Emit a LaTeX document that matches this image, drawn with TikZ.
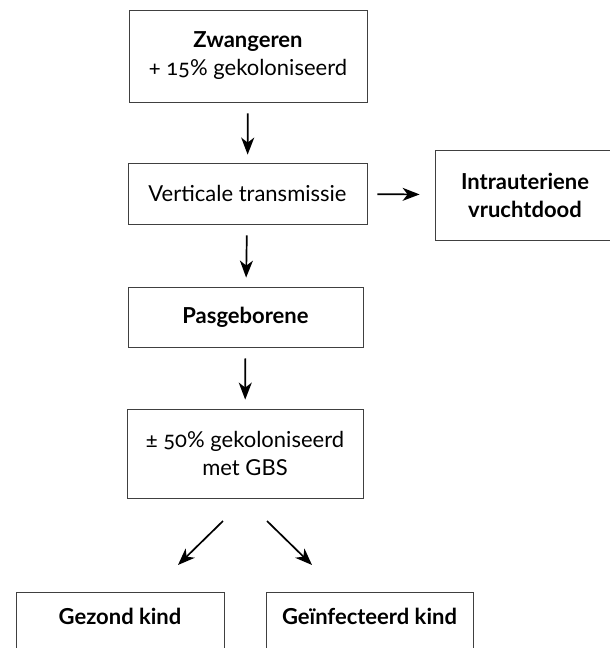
\documentclass[tikz,border=0pt]{standalone}
\usepackage{fontspec}
\setmainfont[Numbers=OldStyle]{Lato}
\usetikzlibrary{arrows.meta}

\begin{document}
\begin{tikzpicture}[x=1pt, y=-1pt,
        box/.style={draw=black!75, line width=0.8pt, align=center, inner sep=0pt,
            font=\fontsize{22}{28}\selectfont},
        arr/.style={-{Stealth[length=17pt, width=13pt, inset=5pt]}, line width=1.7pt}]
        \useasboundingbox (0, 0) rectangle (610, 648);
        \clip (0, 0) rectangle (610, 648);

        \node[box, minimum width=238pt, minimum height=92pt] at (248, 56)     (zw)  {\textbf{Zwangeren}\\+ 15\% gekoloniseerd};
        \node[box, minimum width=239pt, minimum height=61pt] at (247.5, 193.5) (vt)  {Verticale transmissie};
        \node[box, minimum width=180pt, minimum height=90pt] at (525, 195)    (iu)  {\textbf{Intrauteriene}\\\textbf{vruchtdood}};
        \node[box, minimum width=235pt, minimum height=60pt] at (245.5, 317)  (pg)  {\textbf{Pasgeborene}};
        \node[box, minimum width=236pt, minimum height=89pt] at (245, 453.5)  (gk)  {± 50\% gekoloniseerd\\met GBS};
        \node[box, minimum width=208pt, minimum height=76pt, text height=15pt, text depth=27pt] at (120, 630)   (gz)  {\textbf{Gezond kind}};
        \node[box, minimum width=207pt, minimum height=76pt, text height=15pt, text depth=27pt] at (369.5, 630) (gi)  {\textbf{Geïnfecteerd kind}};

        \coordinate (gkl1) at (223, 521);
        \coordinate (gkl2) at (178, 565);
        \coordinate (gkr1) at (267, 521);
        \coordinate (gkr2) at (312, 565);

        \draw[arr, shorten <=11pt, shorten >=8pt] (zw) -- (vt);
        \draw[arr, shorten <=10pt, shorten >=15pt] (vt) -- (iu);
        \draw[arr, shorten <=11pt, shorten >=9pt] (vt) -- (pg);
        \draw[arr, shorten <=11pt, shorten >=9pt] (pg) -- (gk);
        \draw[arr] (gkl1) -- (gkl2);
        \draw[arr] (gkr1) -- (gkr2);
    \end{tikzpicture}
\end{document}
